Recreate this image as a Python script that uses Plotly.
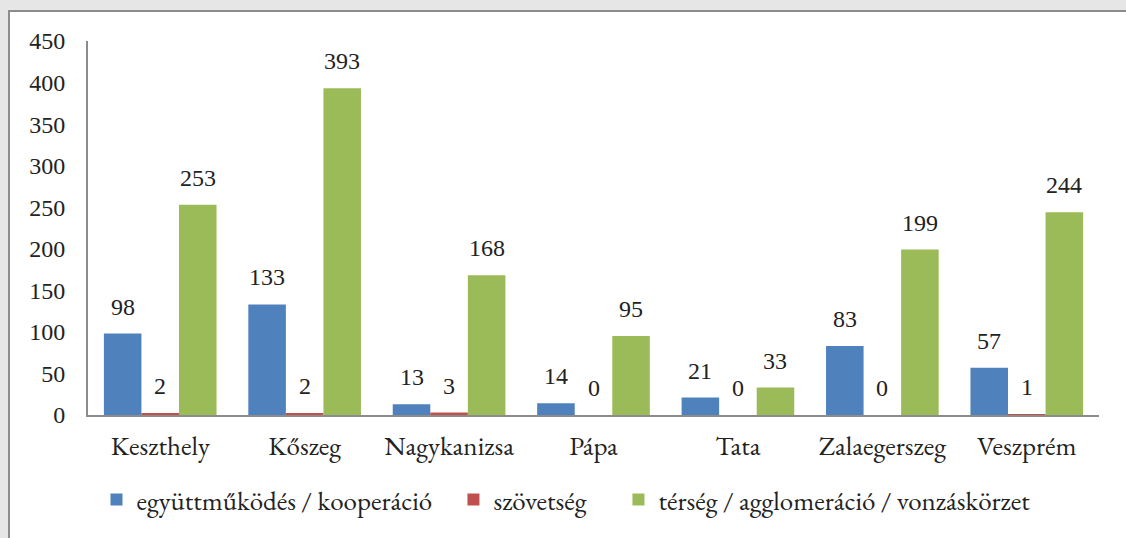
import plotly.graph_objects as go

categories = ["Keszthely", "Kőszeg", "Nagykanizsa", "Pápa", "Tata", "Zalaegerszeg", "Veszprém"]
series_names = ["együttműködés / kooperáció", "szövetség", "térség / agglomeráció / vonzáskörzet"]
egyuttmukodes = [98, 133, 13, 14, 21, 83, 57]
szovetseg = [2, 2, 3, 0, 0, 0, 1]
terseg = [253, 393, 168, 95, 33, 199, 244]
y_ticks = [0, 50, 100, 150, 200, 250, 300, 350, 400, 450]

colors = ["#4F81BD", "#C0504D", "#9BBB59"]
all_series = [egyuttmukodes, szovetseg, terseg]

TEXT_FONT = "EB Garamond"
NUM_FONT = "Liberation Serif, DejaVu Serif, serif"
INK = "#222222"
W, H = 1126, 538
L, R, T, B = 88, 27, 41, 123
plot_w = W - L - R
plot_h = H - T - B

# legend spacing padding (non-breaking spaces after the first two entries)
pads = ["\u00a0\u00a0\u00a0", "\u00a0\u00a0\u00a0\u00a0\u00a0", ""]

fig = go.Figure()
for name, vals, c, pad in zip(series_names, all_series, colors, pads):
    fig.add_trace(go.Bar(x=categories, y=vals, name=name + pad, marker=dict(color=c, line=dict(width=0))))

bar_px = plot_w / len(categories) * (1 - 0.22) / 3
annotations = []
for i, vals in enumerate(all_series):
    for cat, v in zip(categories, vals):
        annotations.append(dict(x=cat, y=v, xref="x", yref="y", text=str(v), showarrow=False,
                                xshift=(i - 1) * bar_px, yshift=27, yanchor="middle",
                                font=dict(family=NUM_FONT, size=24, color=INK)))

def px_x(p):
    return (p - L) / plot_w

def px_y(p):
    return 1 - (p - T) / plot_h

fig.update_layout(
    width=W, height=H,
    margin=dict(l=L, r=R, t=T, b=B),
    paper_bgcolor="#e6e6e6",
    plot_bgcolor="rgba(0,0,0,0)",
    barmode="group", bargap=0.22, bargroupgap=0,
    font=dict(family=TEXT_FONT, size=27, color=INK),
    showlegend=True,
    legend=dict(orientation="h", x=px_x(566), xanchor="center", y=px_y(500), yanchor="middle",
                xref="paper", yref="paper", font=dict(family=TEXT_FONT, size=27, color=INK),
                bgcolor="rgba(0,0,0,0)", itemclick=False),
    annotations=annotations,
    shapes=[dict(type="rect", xref="paper", yref="paper", layer="below",
                 x0=px_x(9), x1=px_x(1140), y0=px_y(560), y1=px_y(11),
                 fillcolor="white", line=dict(color="#8c8c8c", width=2))],
    xaxis=dict(showgrid=False, showline=True, linecolor="#8c8c8c", linewidth=2, ticks="",
               ticklabelstandoff=6, tickfont=dict(family=TEXT_FONT, size=27, color=INK)),
    yaxis=dict(range=[0, 450], tickvals=y_ticks, showgrid=False, showline=True, linecolor="#8c8c8c",
               linewidth=2, ticks="", ticklabelstandoff=16, zeroline=False,
               tickfont=dict(family=NUM_FONT, size=24, color=INK)),
)

fig.write_html("out.html", config={"displayModeBar": False},
               post_script="document.body.style.margin='0';document.body.style.overflow='hidden';")
